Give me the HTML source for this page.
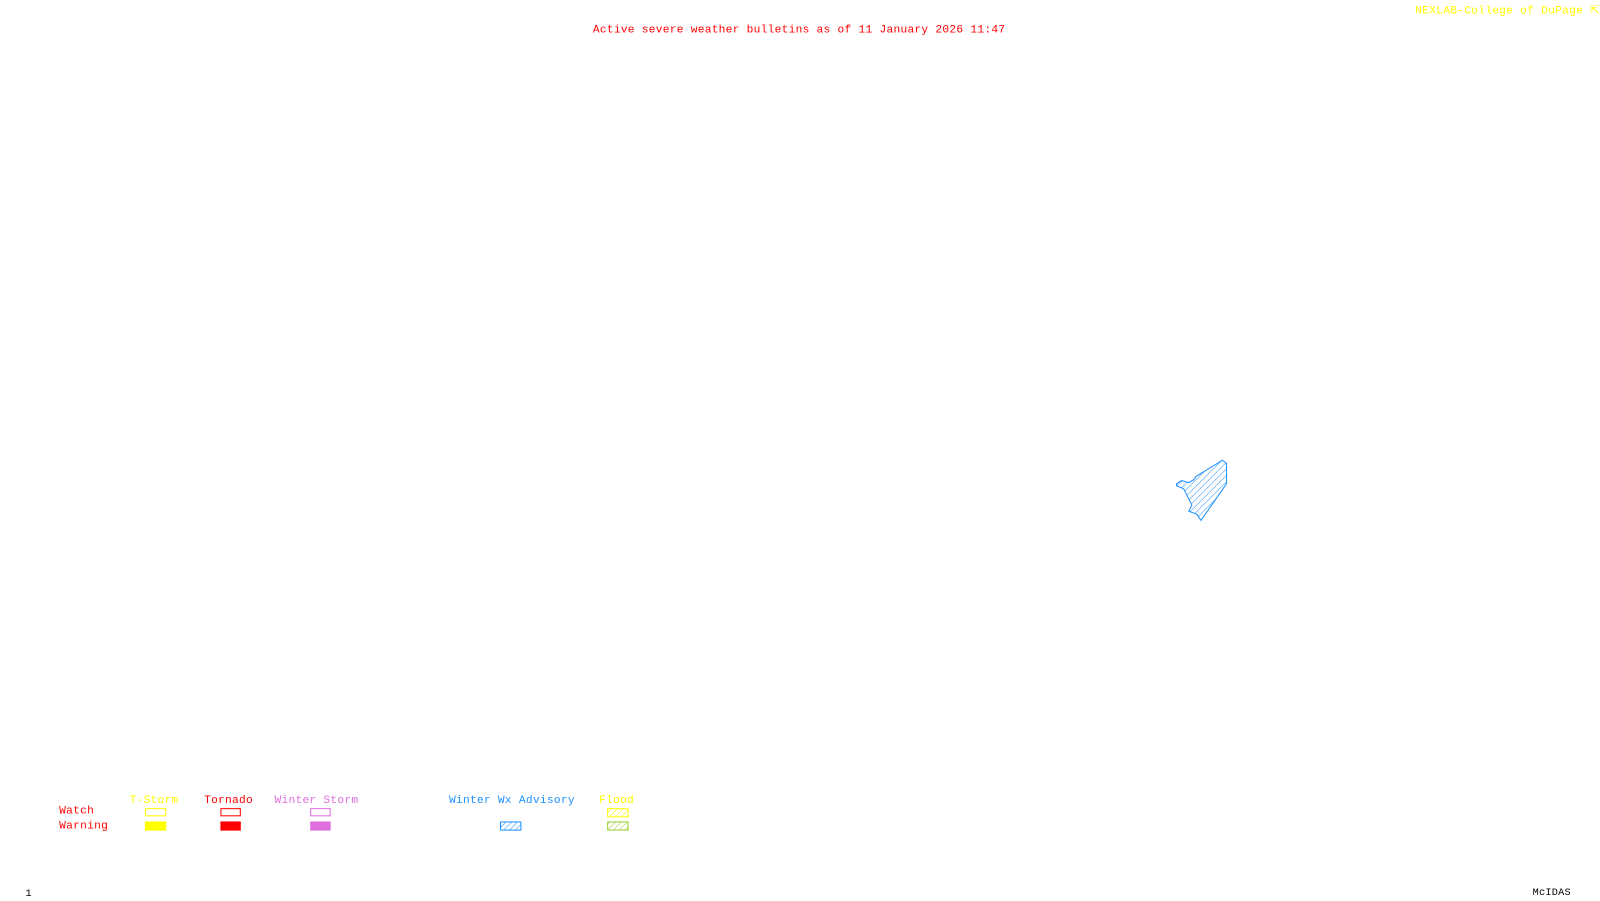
<!DOCTYPE html>
<html><head><meta charset="utf-8"><style>
body{margin:0;width:1600px;height:900px;background:#fff;position:relative;overflow:hidden;font-family:"Liberation Mono",monospace;font-size:11px;}
#w{position:absolute;left:0;top:0;width:1568px;height:882px;transform:scale(1.0204);transform-origin:0 0}
.t{position:absolute;white-space:nowrap;line-height:12px;letter-spacing:0.25px}
</style></head><body><div id="w">
<div class="t" style="left:581px;top:24px;color:#f00">Active severe weather bulletins as of 11 January 2026 11:47</div>
<div class="t" style="left:1387px;top:5px;color:#ff0">NEXLAB-College of DuPage ⇱</div>
<div class="t" style="left:127px;top:779px;color:#ff0">T-Storm</div>
<div class="t" style="left:200px;top:779px;color:#f00">Tornado</div>
<div class="t" style="left:269px;top:779px;color:#dd6edd">Winter Storm</div>
<div class="t" style="left:440px;top:779px;color:#1e90ff">Winter Wx Advisory</div>
<div class="t" style="left:587px;top:779px;color:#ff0">Flood</div>
<div class="t" style="left:58px;top:789px;color:#f00">Watch</div>
<div class="t" style="left:58px;top:804px;color:#f00">Warning</div>
<div class="t" style="left:25px;top:871px;color:#000;font-size:10px">1</div>
<div class="t" style="left:1502px;top:870px;color:#000;font-size:10px">McIDAS</div>
<svg width="1568" height="882" style="position:absolute;left:0;top:0">
<defs>
<pattern id="hb" width="4.5" height="4.5" patternUnits="userSpaceOnUse" patternTransform="rotate(45)"><line x1="0" y1="0" x2="0" y2="5" stroke="#1e90ff" stroke-width="1"/></pattern>
<pattern id="hy" width="4" height="4" patternUnits="userSpaceOnUse" patternTransform="rotate(45)"><line x1="0" y1="0" x2="0" y2="4" stroke="#ff0" stroke-width="1"/></pattern>
<pattern id="hg" width="4" height="4" patternUnits="userSpaceOnUse" patternTransform="rotate(45)"><line x1="0" y1="0" x2="0" y2="4" stroke="#9acd32" stroke-width="1"/></pattern>
<pattern id="hb2" width="4" height="4" patternUnits="userSpaceOnUse" patternTransform="rotate(45)"><line x1="0" y1="0" x2="0" y2="4" stroke="#1e90ff" stroke-width="1"/></pattern>
</defs>
<rect x="142.5" y="792.5" width="20" height="7" fill="none" stroke="#ff0"/>
<rect x="142" y="805" width="21" height="9" fill="#ff0"/>
<rect x="216.5" y="792.5" width="19" height="7" fill="none" stroke="#f00"/>
<rect x="216" y="805" width="20" height="9" fill="#f00"/>
<rect x="304.5" y="792.5" width="19" height="7" fill="none" stroke="#dd6edd"/>
<rect x="304" y="805" width="20" height="9" fill="#dd6edd"/>
<rect x="490.5" y="805.5" width="20" height="8" fill="url(#hb2)" stroke="#1e90ff"/>
<rect x="595.5" y="792.5" width="20" height="8" fill="url(#hy)" stroke="#ff0"/>
<rect x="595.5" y="805.5" width="20" height="8" fill="url(#hg)" stroke="#9acd32"/>
<polygon points="1153,474 1158,471 1165,473 1170,470 1172,467 1198,451 1202,454 1202,474 1177,510 1173,504 1165,501 1168,495 1164,487 1160,479 1153,476" fill="url(#hb)" stroke="#1e90ff" stroke-width="1"/>
</svg>
</div></body></html>
